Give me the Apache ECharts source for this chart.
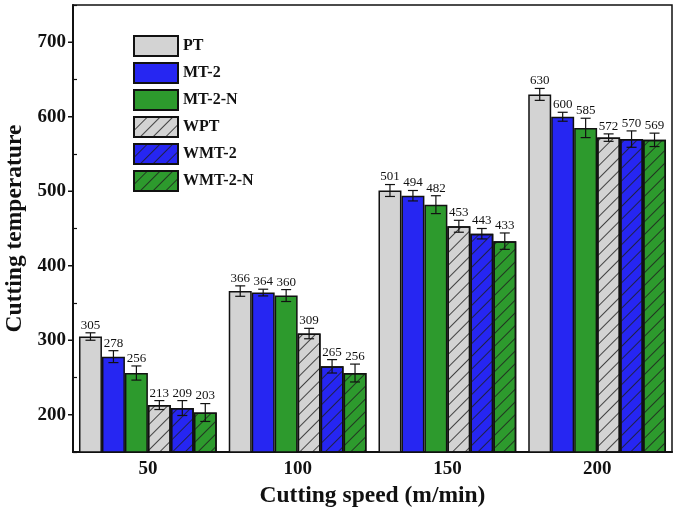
<!DOCTYPE html>
<html><head><meta charset="utf-8">
<script src="https://cdn.jsdelivr.net/npm/echarts@6/dist/echarts.min.js"></script>
<style>html,body{margin:0;padding:0;background:#fff}#c{width:685px;height:512px}</style>
</head><body><div id="c"></div>
<script>
var categories = ['50', '100', '150', '200'];
var seriesNames = ['PT', 'MT-2', 'MT-2-N', 'WPT', 'WMT-2', 'WMT-2-N'];
var valPT = [305, 366, 501, 630];
var valMT2 = [278, 364, 494, 600];
var valMT2N = [256, 360, 482, 585];
var valWPT = [213, 309, 453, 572];
var valWMT2 = [209, 265, 443, 570];
var valWMT2N = [203, 256, 433, 569];
var errPT = [5, 7, 8, 8];
var errMT2 = [8, 4.5, 7, 6];
var errMT2N = [9.5, 8, 12, 13];
var errWPT = [6, 7, 8, 5];
var errWMT2 = [10, 9, 7, 11];
var errWMT2N = [12, 12, 11, 9];
var yTicks = [200, 300, 400, 500, 600, 700];

var values = [valPT, valMT2, valMT2N, valWPT, valWMT2, valWMT2N];
var errors = [errPT, errMT2, errMT2N, errWPT, errWMT2, errWMT2N];
var colors = ['#d3d3d3', '#2626f2', '#2d9a2d', '#d3d3d3', '#2626f2', '#2d9a2d'];
var GAP = 0.08;
var NS = 6;
var serif = '"Liberation Serif","DejaVu Serif",serif';

var hatch = {symbol: 'rect', symbolSize: 1, dashArrayX: [1, 0], dashArrayY: [1, 8], rotation: -Math.PI / 4, color: 'rgba(30,30,30,0.8)'};

var series = [];
for (var s = 0; s < NS; s++) {
  var st = {color: colors[s], borderColor: '#111', borderWidth: 1.5};
  if (s >= 3) st.decal = hatch;
  series.push({
    name: seriesNames[s], type: 'bar', data: values[s],
    barGap: '0%', barCategoryGap: (GAP * 100) + '%',
    itemStyle: st, emphasis: {disabled: true}
  });
}
var errData = [];
for (var s2 = 0; s2 < NS; s2++) {
  for (var c = 0; c < categories.length; c++) {
    errData.push([c, values[s2][c], errors[s2][c], s2]);
  }
}
series.push({
  type: 'custom', name: 'err', data: errData, z: 10,
  renderItem: function (params, api) {
    var ci = api.value(0), v = api.value(1), e = api.value(2), si = api.value(3);
    var catW = api.size([1, 0])[0];
    var bw = catW * (1 - GAP) / NS;
    var cx = api.coord([ci, v])[0] - catW * (1 - GAP) / 2 + bw * (si + 0.5);
    var yt = api.coord([ci, v + e])[1];
    var yb = api.coord([ci, v - e])[1];
    var cap = 5;
    var ls = {stroke: '#111', lineWidth: 1.2};
    return {type: 'group', children: [
      {type: 'line', shape: {x1: cx, y1: yt, x2: cx, y2: yb}, style: ls},
      {type: 'line', shape: {x1: cx - cap, y1: yt, x2: cx + cap, y2: yt}, style: ls},
      {type: 'line', shape: {x1: cx - cap, y1: yb, x2: cx + cap, y2: yb}, style: ls},
      {type: 'text', style: {text: String(v), x: cx, y: yt - 1, align: 'center', verticalAlign: 'bottom',
        font: '13px ' + serif, fill: '#111'}}
    ]};
  }
});
// major outward ticks at the labelled values, placed through the y scale
series.push({
  type: 'custom', name: 'majorTicks', data: yTicks.map(function (t) { return [0, t]; }), z: 12, clip: false,
  silent: true,
  renderItem: function (params, api) {
    var x0 = params.coordSys.x;
    var y = api.coord([0, api.value(1)])[1];
    return {type: 'line', shape: {x1: x0 - 5, y1: y, x2: x0, y2: y}, style: {stroke: '#111', lineWidth: 1.5}};
  }
});

var chart = echarts.init(document.getElementById('c'), null, {renderer: 'canvas'});
chart.setOption({
  animation: false,
  backgroundColor: '#fff',
  grid: {left: 73, right: 13, top: 5, bottom: 60, show: true, borderColor: '#111', borderWidth: 1.5,
    backgroundColor: 'transparent', containLabel: false, outerBoundsMode: 'none'},
  legend: {
    data: seriesNames, orient: 'vertical', left: 133, top: 35, padding: 0,
    itemWidth: 44, itemHeight: 20, itemGap: 5,
    icon: 'rect',
    textStyle: {fontFamily: serif, fontWeight: 'bold', fontSize: 16, color: '#111', lineHeight: 20},
    selectedMode: false
  },
  xAxis: {
    type: 'category', data: categories,
    name: 'Cutting speed (m/min)', nameLocation: 'middle', nameGap: 32,
    nameTextStyle: {fontFamily: serif, fontWeight: 'bold', fontSize: 23.5, color: '#111'},
    axisLine: {lineStyle: {color: '#111', width: 2}},
    axisTick: {show: false},
    axisLabel: {fontFamily: serif, fontWeight: 'bold', fontSize: 19, color: '#111', margin: 8}
  },
  yAxis: [{
    type: 'value', min: 150, max: 750, interval: 50,
    name: 'Cutting temperature', nameLocation: 'middle', nameGap: 37,
    nameTextStyle: {fontFamily: serif, fontWeight: 'bold', fontSize: 23.5, color: '#111'},
    axisLine: {show: true, lineStyle: {color: '#111', width: 2}},
    axisTick: {show: false},
    splitLine: {show: false},
    axisLabel: {fontFamily: serif, fontWeight: 'bold', fontSize: 19, color: '#111', margin: 7,
      formatter: function (v) { return yTicks.indexOf(v) >= 0 ? String(v) : ''; }}
  }, {
    type: 'value', min: 150, max: 750, interval: 100, position: 'left',
    axisLine: {show: false}, axisLabel: {show: false}, splitLine: {show: false},
    axisTick: {show: true, inside: true, length: 4, lineStyle: {color: '#111', width: 1.2}}
  }],
  series: series
});
</script>
</body></html>
